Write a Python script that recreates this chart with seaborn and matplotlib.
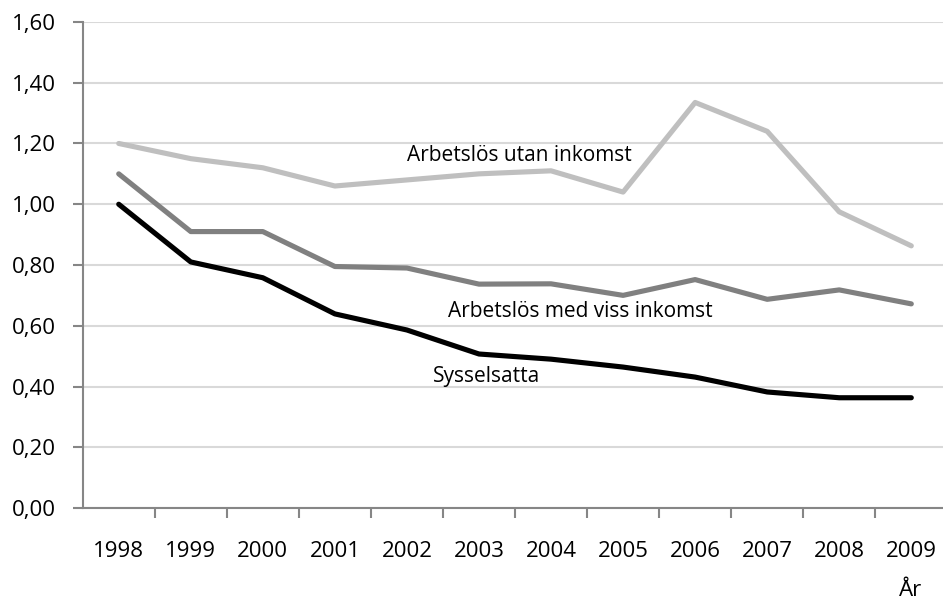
import pandas as pd
import numpy as np
import matplotlib.pyplot as plt
import seaborn as sns

years = ["1998", "1999", "2000", "2001", "2002", "2003",
         "2004", "2005", "2006", "2007", "2008", "2009"]
utan_inkomst = [1.20, 1.15, 1.12, 1.06, 1.08, 1.10, 1.11, 1.04, 1.335, 1.24, 0.975, 0.863]
med_viss_inkomst = [1.10, 0.91, 0.91, 0.795, 0.79, 0.737, 0.738, 0.70, 0.752, 0.687, 0.718, 0.672]
sysselsatta = [1.00, 0.81, 0.758, 0.639, 0.586, 0.507, 0.49, 0.464, 0.431, 0.382, 0.363, 0.363]
y_ticks = [0.0, 0.2, 0.4, 0.6, 0.8, 1.0, 1.2, 1.4, 1.6]

df = pd.DataFrame({
    "x": list(range(len(years))) * 3,
    "value": utan_inkomst + med_viss_inkomst + sysselsatta,
    "serie": ["Arbetslös utan inkomst"] * 12 + ["Arbetslös med viss inkomst"] * 12 + ["Sysselsatta"] * 12,
})

sns.set_style("white")
plt.rcParams['font.family'] = ['Open Sans', 'DejaVu Sans']
plt.rcParams['text.color'] = 'black'

fig = plt.figure(figsize=(9.43, 6.05), dpi=100)
ax = fig.add_axes([0.0877, 0.1603, 0.9123, 0.8034])

palette = {"Arbetslös utan inkomst": "#BFBFBF",
           "Arbetslös med viss inkomst": "#808080",
           "Sysselsatta": "#000000"}
sns.lineplot(data=df, x="x", y="value", hue="serie", palette=palette,
             linewidth=3.7, legend=False, ax=ax, solid_capstyle="round")

ax.set_xlim(-0.5, 11.44)
ax.set_ylim(0, 1.6)
ax.set_yticks(y_ticks)
ax.set_yticklabels([f"{v:.2f}".replace(".", ",") for v in y_ticks])
ax.set_xticks(range(len(years)))
ax.set_xticklabels(years)
ax.set_xticks(np.arange(0.5, 11, 1), minor=True)
ax.tick_params(axis="x", which="major", bottom=True, length=0, pad=24, labelsize=16, labelcolor="black")
ax.tick_params(axis="x", which="minor", bottom=True, length=7, width=1.5, color="#868686", direction="out")
ax.tick_params(axis="y", left=True, length=7, width=1.5, color="#868686", direction="out", pad=12,
               labelsize=16, labelcolor="black")
ax.set_xlabel("")
ax.set_ylabel("")

ax.grid(axis="y", color="#D9D9D9", linewidth=1.5)
ax.set_axisbelow(True)
for s in ["top", "right"]:
    ax.spines[s].set_visible(False)
for s in ["left", "bottom"]:
    ax.spines[s].set_color("#868686")
    ax.spines[s].set_linewidth(1.5)

ax.text(4.0, 1.16, "Arbetslös utan inkomst", fontsize=15, va="center", ha="left")
ax.text(4.57, 0.646, "Arbetslös med viss inkomst", fontsize=15, va="center", ha="left")
ax.text(4.36, 0.434, "Sysselsatta", fontsize=15, va="center", ha="left")
fig.text(911 / 943, 1 - 590 / 605, "År", fontsize=16, ha="center", va="center")

fig.savefig("out.png", dpi=100)
